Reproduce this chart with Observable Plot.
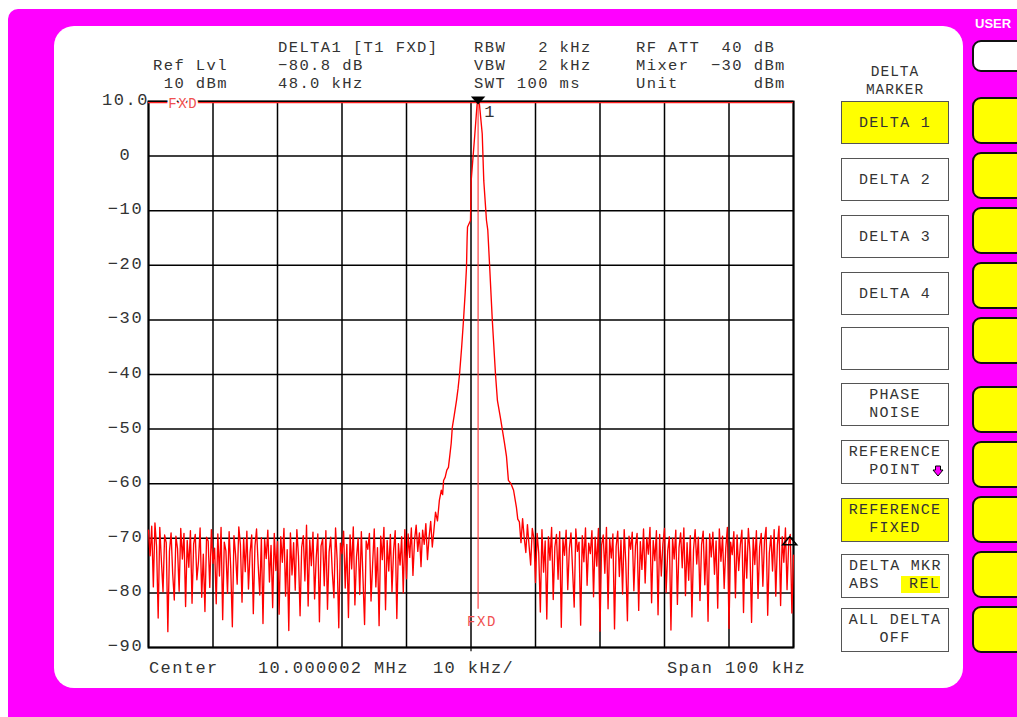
<!DOCTYPE html>
<html><head><meta charset="utf-8">
<script src="https://cdn.jsdelivr.net/npm/d3@7"></script>
<script src="https://cdn.jsdelivr.net/npm/@observablehq/plot@0.6"></script>
<style>
html,body{margin:0;padding:0;background:#fff;}
#wrap{position:relative;width:1017px;height:717px;overflow:hidden;font-family:"Liberation Mono",monospace;color:#333;background:#fff;}
.mag{position:absolute;left:8px;top:9px;width:1020px;height:720px;background:#ff00ff;border-top-left-radius:10px;}
.panel{position:absolute;left:54px;top:26px;width:909px;height:662px;background:#fff;border-radius:20px;}
#chart{position:absolute;left:0;top:0;}
#chart svg text{letter-spacing:1.6px;}
.t{position:absolute;white-space:pre;line-height:18px;transform:translateY(-50%);}
.h{font-size:15.5px;letter-spacing:1.4px;}
.b{font-size:17px;letter-spacing:1.4px;}
.box{position:absolute;left:841px;width:108px;border:1.5px solid #555;box-sizing:border-box;}
.bt{position:absolute;left:0;width:100%;text-align:center;white-space:pre;font-size:15px;letter-spacing:1.3px;line-height:18px;transform:translateY(-50%);}
.sk{position:absolute;left:972px;width:60px;border:2px solid #111;border-radius:9px;background:#ffff00;box-sizing:border-box;}
</style></head>
<body>
<div id="wrap">
  <div class="mag"></div>
  <div class="panel"></div>
  <div id="chart"></div>
</div>
<script>
// ---- data ----
const yTicks = [10, 0, -10, -20, -30, -40, -50, -60, -70, -80, -90];
const xTicks = [-50, -40, -30, -20, -10, 0, 10, 20, 30, 40, 50];
const sweepStep = 0.25; // kHz between trace points
const noiseLeftStart = -50;
const noiseLeft = [
 -68.5,-73.2,-67.8,-78.9,-67.2,-71.5,-84.6,-68.0,-74.1,-79.8,-69.4,-70.8,-87.1,-72.4,-69.0,-76.5,-81.3,-69.6,-71.9,-79.7,-68.2,-73.8,-69.1,-82.5,-70.4,-75.3,-68.6,-81.9,-71.0,-69.3,-77.6,-74.2,-68.1,-80.8,-72.9,-83.4,-69.8,-70.5,-79.0,-68.4,-74.6,
 -71.8,-82.0,-69.2,-76.9,-68.0,-84.9,-70.7,-72.3,-80.1,-68.8,-75.5,-86.2,-69.5,-73.0,-78.4,-67.9,-71.2,-81.7,-70.0,-76.1,-68.7,-79.3,-72.6,-69.4,-83.8,-71.5,-68.3,-74.8,-80.4,-69.9,-85.6,-70.2,-73.7,-68.5,-78.0,-71.3,-82.7,-69.1,-75.9,-70.6,
 -83.9,-69.7,-74.4,-68.2,-80.6,-72.1,-86.9,-69.0,-76.7,-70.8,-79.5,-68.4,-73.3,-84.2,-71.6,-69.5,-77.8,-67.6,-82.4,-70.3,-75.0,-68.9,-81.1,-73.6,-69.2,-85.3,-71.4,-70.1,-78.7,-68.6,-83.0,-72.5,-69.8,-76.3,-80.9,-68.1,-74.0,-86.4,-70.9,-72.8,
 -68.7,-79.1,-71.1,-84.5,-69.4,-75.6,-67.9,-82.2,-73.4,-70.0,-80.3,-68.8,-77.2,-85.8,-70.5,-72.0,-69.1,-81.5,-74.7,-68.3,-78.9,-71.7,-86.0,-69.6,-73.9,-68.0,-83.1,-70.4,-76.0,-69.3,-79.8,-72.2,-68.6,-84.7,-71.0,-74.9,-69.7,-80.0,-68.4,-77.4,
 -69.2,-73.5,-68.1,-76.8,-70.3,-67.6,-72.4,-69.0,-75.2,-68.5,-71.1,-67.3,-73.9,-69.8,-66.9,-71.6
];
const skirtFreq = [-5.75,-5.5,-5.2,-4.9,-4.6,-4.4,-4.25,-4.0,-3.75,-3.5,-3.3,-3.07,-2.9,-2.6,-2.25,-2.0,-1.78,-1.45,-1.16,-0.9,-0.7,-0.6,-0.54,-0.08,0.03,0.6,0.95,1.1,1.3,1.74,1.98,2.4,2.6,2.9,3.3,3.8,4.1,4.57,5.2,5.5,5.8,6.2,6.6,7.05,7.25];
const skirtLevel = [-68.5,-65.2,-66.8,-63.0,-61.2,-62.0,-59.4,-58.8,-57.5,-57.0,-55.0,-52.6,-49.7,-47.5,-44.8,-42.5,-40.0,-35.0,-30.0,-25.0,-20.4,-15.0,-13.0,-11.8,-4.5,4.1,9.6,9.8,9.6,4.1,-4.5,-11.8,-13.5,-20.4,-30.0,-40.0,-44.8,-48.0,-52.6,-55.0,-59.4,-60.0,-61.2,-64.4,-66.5];
const noiseRightStart = 7.5;
const noiseRight = [
 -67.0,-70.8,-66.4,-69.9,-72.6,-67.5,-71.3,-74.9,-68.2,-70.0,-78.1,-69.1,-72.7,-83.5,-68.4,-76.2,-70.5,-84.8,-69.7,-74.0,-68.0,-81.2,-71.6,-69.3,-77.5,-68.8,-86.3,-70.2,-73.1,-68.5,-79.4,-71.9,-69.0,-75.8,-82.6,-68.3,-72.4,-70.7,-85.9,-69.5,-74.3,
 -68.1,-78.6,-70.9,-72.8,-68.6,-80.7,-69.8,-75.1,-68.2,-87.0,-71.2,-69.4,-76.4,-68.0,-82.9,-70.1,-73.6,-69.2,-86.6,-71.5,-68.7,-77.0,-70.3,-80.2,-68.4,-74.5,-85.1,-69.6,-72.0,-68.9,-79.6,-71.4,-69.1,-83.2,-70.6,-75.7,-68.3,-78.2,-69.9,-72.9,
 -68.0,-81.8,-70.4,-74.1,-68.6,-84.0,-69.3,-76.9,-71.0,-68.2,-79.9,-72.3,-69.7,-86.8,-70.0,-73.8,-68.5,-82.1,-71.7,-69.0,-75.4,-68.1,-80.5,-70.8,-77.7,-69.5,-84.4,-72.1,-68.4,-74.7,-69.8,-81.4,-71.1,-68.7,-78.5,-70.2,-85.2,-69.2,-73.4,-68.9,
 -76.6,-70.5,-82.8,-68.3,-74.2,-69.6,-79.2,-71.8,-68.0,-86.5,-70.7,-73.0,-68.8,-80.9,-69.4,-75.9,-71.3,-68.5,-83.6,-70.1,-77.3,-68.2,-72.5,-85.4,-69.9,-74.8,-68.6,-81.0,-71.6,-69.1,-78.8,-70.4,-68.0,-84.1,-72.7,-69.5,-76.0,-68.4,-80.6,-71.2,-67.8,-82.3,-69.7,-74.4,-68.1,-79.4,-71.0,-69.3,-83.7,-73.1
];
const refFreq = 1.1;     // kHz offset of the fixed reference (marker 1)
const refLevel = 9.8;    // dBm
const deltaKHz = 48.0;
const deltaDb = -80.8;
const fxdLineBottom = -83;

const headerLines = [
  {x:153, y:66, t:"Ref Lvl"}, {x:153, y:84, t:" 10 dBm"},
  {x:278, y:48, t:"DELTA1 [T1 FXD]"}, {x:278, y:66, t:"\u221280.8 dB"}, {x:278, y:84, t:"48.0 kHz"},
  {x:474, y:48, t:"RBW   2 kHz"}, {x:474, y:66, t:"VBW   2 kHz"}, {x:474, y:84, t:"SWT 100 ms"},
  {x:636, y:48, t:"RF ATT  40 dB"}, {x:636, y:66, t:"Mixer  \u221230 dBm"}, {x:636, y:84, t:"Unit       dBm"}
];
const footerLines = [
  {x:149, t:"Center"}, {x:258, t:"10.000002 MHz"}, {x:433, t:"10 kHz/"}, {x:667, t:"Span 100 kHz"}
];
const menu = [
  {top:101, h:43, yellow:true, lines:["DELTA 1"]},
  {top:158, h:43, lines:["DELTA 2"]},
  {top:215, h:43, lines:["DELTA 3"]},
  {top:272, h:43, lines:["DELTA 4"]},
  {top:327, h:43, lines:[]},
  {top:383, h:43, lines:["PHASE","NOISE"]},
  {top:440, h:44, lines:["REFERENCE","POINT"], arrow:true},
  {top:498, h:44, yellow:true, lines:["REFERENCE","FIXED"]},
  {top:554, h:44, lines:[], mkr:true},
  {top:608, h:44, lines:["ALL DELTA","OFF"]}
];
const softkeys = [
  {top:40, h:32, white:true}, {top:97, h:47}, {top:152, h:47}, {top:207, h:47}, {top:262, h:47}, {top:317, h:47},
  {top:386, h:47}, {top:441, h:47}, {top:496, h:47}, {top:551, h:47}, {top:606, h:47}
];

// ---- build trace ----
const trace = [];
noiseLeft.forEach((v, i) => trace.push({f: noiseLeftStart + i * sweepStep, l: v}));
skirtFreq.forEach((f, i) => trace.push({f, l: skirtLevel[i]}));
noiseRight.forEach((v, i) => trace.push({f: noiseRightStart + i * sweepStep, l: v}));

const triDown = {draw(ctx, size){ const s = Math.sqrt(size/Math.PI); ctx.moveTo(-1.45*s,-0.8*s); ctx.lineTo(1.45*s,-0.8*s); ctx.lineTo(0,0.8*s); ctx.closePath(); }};
const triUp = {draw(ctx, size){ const s = Math.sqrt(size/Math.PI); ctx.moveTo(-1.4*s,0.8*s); ctx.lineTo(1.4*s,0.8*s); ctx.lineTo(0,-0.8*s); ctx.closePath(); }};

const fmt = d => d === 10 ? "10.0" : (d < 0 ? "\u2212" + Math.abs(d) : String(d));

const chart = Plot.plot({
  width: 1017, height: 717,
  marginLeft: 148, marginRight: 224, marginTop: 101, marginBottom: 70,
  style: {background: "transparent", fontFamily: "Liberation Mono", color: "#333"},
  x: {domain: [-50, 50], axis: null, label: null},
  y: {domain: [-90, 10], axis: null, label: null},
  marks: [
    Plot.gridX(xTicks, {stroke: "#000", strokeOpacity: 1, strokeWidth: 1.5}),
    Plot.gridY(yTicks, {stroke: "#000", strokeOpacity: 1, strokeWidth: 1.5}),
    Plot.ruleX([0], {y1: -90, y2: -90.8, stroke: "#000", strokeWidth: 1.2}),
    Plot.frame({stroke: "#000", strokeWidth: 2}),
    Plot.axisY(yTicks, {anchor: "left", label: null, tickSize: 0, tickPadding: 23, textAnchor: "middle", fontSize: 17, fill: "#333", tickFormat: fmt, fontFamily: "Liberation Mono", dy: -2}),
    Plot.ruleY([refLevel], {stroke: "#ff2020", strokeWidth: 1.2}),
    Plot.ruleX([refFreq], {y1: refLevel, y2: fxdLineBottom, stroke: "#ff4040", strokeWidth: 1.2}),
    Plot.line(trace, {x: "f", y: "l", stroke: "#ff0000", strokeWidth: 1.35}),
    Plot.text([{f: -44.6, l: refLevel, t: "FXD"}], {x: "f", y: "l", text: "t", fill: "#f05050", stroke: "white", strokeWidth: 4, fontSize: 14, fontFamily: "Liberation Mono", dy: 1}),
    Plot.text([{f: refFreq + 0.6, l: -85.2, t: "FXD"}], {x: "f", y: "l", text: "t", fill: "#f05050", fontSize: 14, fontFamily: "Liberation Mono"}),
    Plot.dot([{f: refFreq, l: refLevel}], {x: "f", y: "l", symbol: triDown, r: 5, fill: "#000", stroke: "none", dy: -2}),
    Plot.text([{f: refFreq, l: refLevel, t: "1"}], {x: "f", y: "l", text: "t", fill: "#333", fontSize: 17, fontFamily: "Liberation Mono", dx: 12, dy: 9}),
    Plot.dot([{f: refFreq + deltaKHz, l: refLevel + deltaDb}], {x: "f", y: "l", symbol: triUp, r: 5, fill: "none", stroke: "#000", strokeWidth: 1.5, dx: 2, dy: -3})
  ]
});
document.getElementById("chart").appendChild(chart);

// ---- instrument chrome (HTML) ----
const wrap = document.getElementById("wrap");
function addDiv(cls, style, text){ const d = document.createElement("div"); d.className = cls; Object.assign(d.style, style); if (text != null) d.textContent = text; wrap.appendChild(d); return d; }
headerLines.forEach(h => addDiv("t h", {left: h.x + "px", top: h.y + "px"}, h.t));
footerLines.forEach(h => addDiv("t b", {left: h.x + "px", top: "669px"}, h.t));
addDiv("t", {left: "841px", width: "108px", textAlign: "center", top: "72px", fontSize: "14.5px", letterSpacing: "1px"}, "DELTA");
addDiv("t", {left: "841px", width: "108px", textAlign: "center", top: "90px", fontSize: "14.5px", letterSpacing: "1px"}, "MARKER");
menu.forEach(m => {
  const b = addDiv("box", {top: m.top + "px", height: m.h + "px", background: m.yellow ? "#ffff00" : "#fff"});
  const offs = m.lines.length === 1 ? [21.5] : [12, 29.5];
  m.lines.forEach((ln, i) => { const d = document.createElement("div"); d.className = "bt"; d.style.top = offs[i] + "px"; d.textContent = ln; b.appendChild(d); });
  if (m.arrow) {
    const s = document.createElementNS("http://www.w3.org/2000/svg", "svg");
    s.setAttribute("width", "12"); s.setAttribute("height", "12");
    s.style.position = "absolute"; s.style.left = "90px"; s.style.top = "24px";
    s.innerHTML = '<polygon points="3.5,1 8.5,1 8.5,5 11,5 6,11 1,5 3.5,5" fill="#ff00ff" stroke="#000" stroke-width="1"/>';
    b.appendChild(s);
  }
  if (m.mkr) {
    const a = document.createElement("div"); a.className = "bt"; a.style.textAlign = "left"; a.style.left = "7px"; a.style.top = "12px"; a.textContent = "DELTA MKR"; b.appendChild(a);
    const c = document.createElement("div"); c.className = "bt"; c.style.textAlign = "left"; c.style.left = "7px"; c.style.top = "30px"; c.textContent = "ABS"; b.appendChild(c);
    const r = document.createElement("div"); r.style.cssText = "position:absolute;left:59px;top:21px;width:39px;height:17px;background:#ffff00;"; b.appendChild(r);
    const rt = document.createElement("div"); rt.className = "bt"; rt.style.textAlign = "right"; rt.style.left = "auto"; rt.style.right = "8px"; rt.style.width = "auto"; rt.style.top = "30px"; rt.textContent = "REL"; b.appendChild(rt);
  }
});
softkeys.forEach(k => addDiv("sk", {top: k.top + "px", height: k.h + "px", background: k.white ? "#fff" : "#ffff00"}));
addDiv("t", {left: "975px", top: "24px", color: "#fff", fontFamily: "'Liberation Sans',Arial,sans-serif", fontWeight: "bold", fontSize: "13px"}, "USER");
</script>
</body></html>
